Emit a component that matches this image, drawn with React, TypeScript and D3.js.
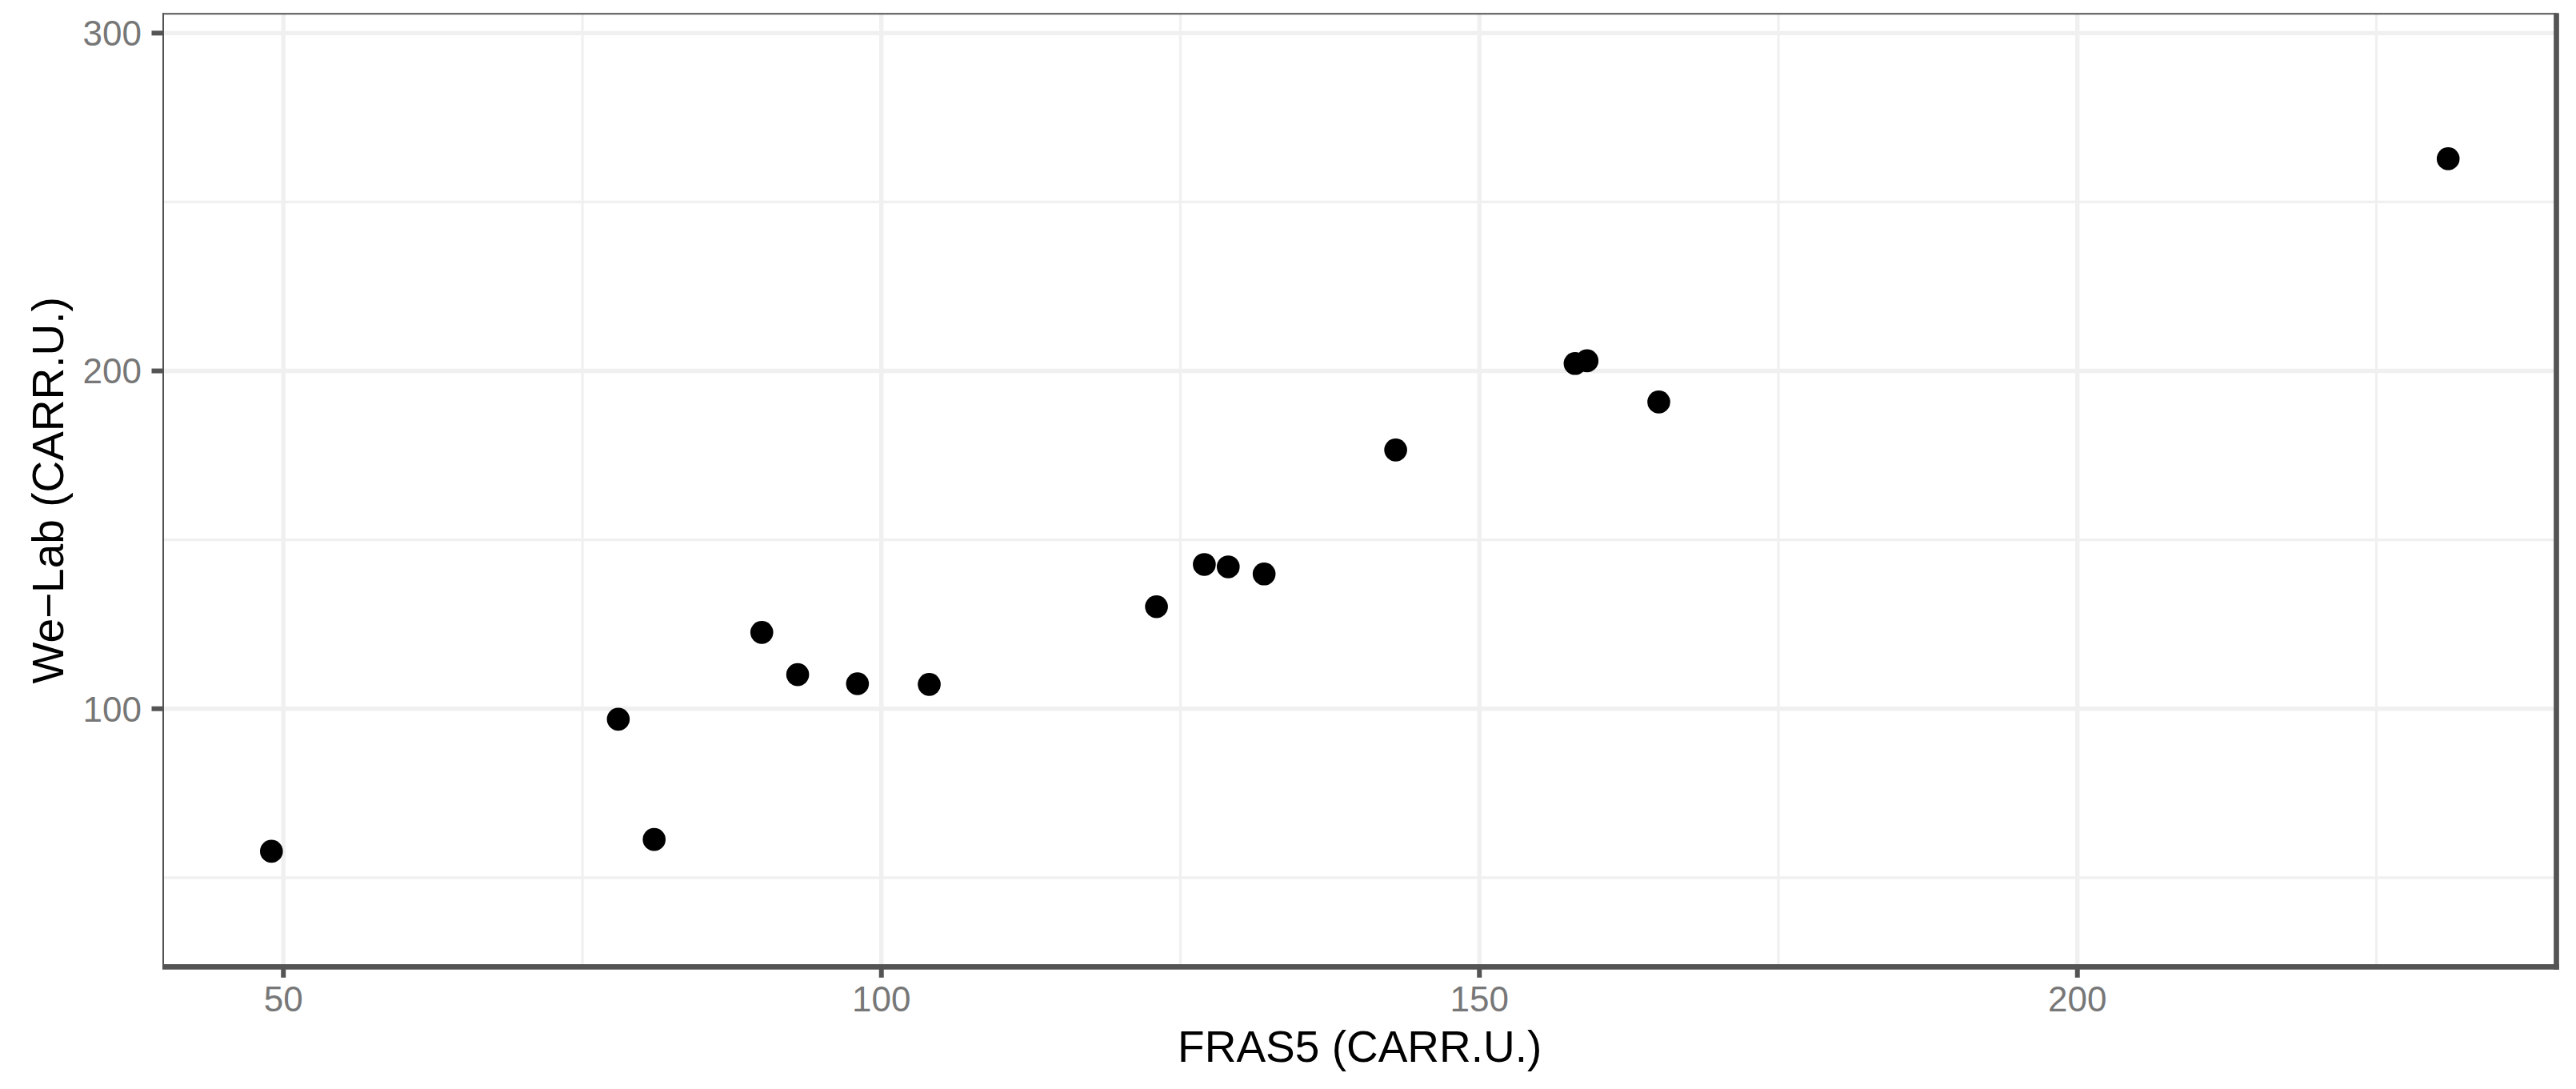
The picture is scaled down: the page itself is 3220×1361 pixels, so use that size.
import React from "react";
import * as d3 from "d3";

const fras5 = [49, 78, 81, 90, 93, 98, 104, 123, 127, 129, 132, 143, 158, 159, 165, 231];
const weLab = [57.8, 96.9, 61.3, 122.6, 110.1, 107.4, 107.2, 130.2, 142.7, 142.0, 139.9, 176.6, 202.2, 203.0, 190.8, 262.8];
const xTicks = [50, 100, 150, 200];
const yTicks = [100, 200, 300];
const xMinor = [75, 125, 175, 225];
const yMinor = [50, 150, 250];
const xTitle = "FRAS5 (CARR.U.)";
const yTitle = "We\u2212Lab (CARR.U.)";

const W = 3220;
const H = 1361;
const P = { x0: 204, x1: 3195.5, y0: 17.3, y1: 1208.3 };
const FONT = "'Liberation Sans', Arial, Helvetica, sans-serif";
const GRID = "#F0F0F0";
const DARK = "#545454";

export default function App() {
  const x = d3.scaleLinear().domain([39.95, 240.05]).range([P.x0, P.x1]);
  const y = d3.scaleLinear().domain([23.6, 305.7]).range([P.y1, P.y0]);
  const pts = fras5.map((v, i) => [v, weLab[i]]);

  return (
    <svg
      width={W}
      height={H}
      style={{ position: "absolute", left: 0, top: 0, display: "block", background: "#fff" }}
    >
      <defs>
        <clipPath id="panel">
          <rect x={P.x0} y={P.y0} width={P.x1 - P.x0} height={P.y1 - P.y0} />
        </clipPath>
      </defs>
      <rect x={0} y={0} width={W} height={H} fill="#fff" />
      <g clipPath="url(#panel)">
        {yMinor.map((t) => (
          <line key={"ym" + t} x1={P.x0} x2={P.x1} y1={y(t)} y2={y(t)} stroke={GRID} strokeWidth={3.2} />
        ))}
        {xMinor.map((t) => (
          <line key={"xm" + t} x1={x(t)} x2={x(t)} y1={P.y0} y2={P.y1} stroke={GRID} strokeWidth={3.2} />
        ))}
        {yTicks.map((t) => (
          <line key={"yg" + t} x1={P.x0} x2={P.x1} y1={y(t)} y2={y(t)} stroke={GRID} strokeWidth={5.4} />
        ))}
        {xTicks.map((t) => (
          <line key={"xg" + t} x1={x(t)} x2={x(t)} y1={P.y0} y2={P.y1} stroke={GRID} strokeWidth={5.4} />
        ))}
        {pts.map(([a, b], i) => (
          <circle key={i} cx={x(a)} cy={y(b)} r={14.3} fill="#000" />
        ))}
      </g>
      {/* panel border */}
      <line x1={P.x0} x2={P.x0} y1={P.y0 - 1} y2={P.y1} stroke={DARK} strokeWidth={2} />
      <line x1={P.x0 - 1} x2={P.x1} y1={P.y0} y2={P.y0} stroke={DARK} strokeWidth={2} />
      <line x1={P.x1} x2={P.x1} y1={P.y0 - 1} y2={P.y1 + 3.35} stroke={DARK} strokeWidth={6.7} />
      <line x1={P.x0 - 1} x2={P.x1 + 3.35} y1={P.y1} y2={P.y1} stroke={DARK} strokeWidth={6.7} />
      {/* y axis ticks */}
      {yTicks.map((t) => (
        <g key={"yt" + t}>
          <line x1={P.x0 - 14.5} x2={P.x0} y1={y(t)} y2={y(t)} stroke={DARK} strokeWidth={6} />
          <text
            x={177}
            y={y(t) + 15.8}
            textAnchor="end"
            fontFamily={FONT}
            fontSize={44}
            fill="#777777"
          >
            {t}
          </text>
        </g>
      ))}
      {/* x axis ticks */}
      {xTicks.map((t) => (
        <g key={"xt" + t}>
          <line x1={x(t)} x2={x(t)} y1={P.y1} y2={P.y1 + 13.5} stroke={DARK} strokeWidth={6} />
          <text
            x={x(t)}
            y={1264.3}
            textAnchor="middle"
            fontFamily={FONT}
            fontSize={44}
            fill="#777777"
          >
            {t}
          </text>
        </g>
      ))}
      <text
        x={(P.x0 + P.x1) / 2}
        y={1326.7}
        textAnchor="middle"
        fontFamily={FONT}
        fontSize={55}
        fill="#000"
      >
        {xTitle}
      </text>
      <text
        transform={`translate(79, ${(P.y0 + P.y1) / 2}) rotate(-90)`}
        textAnchor="middle"
        fontFamily={FONT}
        fontSize={55}
        fill="#000"
      >
        {yTitle}
      </text>
    </svg>
  );
}
